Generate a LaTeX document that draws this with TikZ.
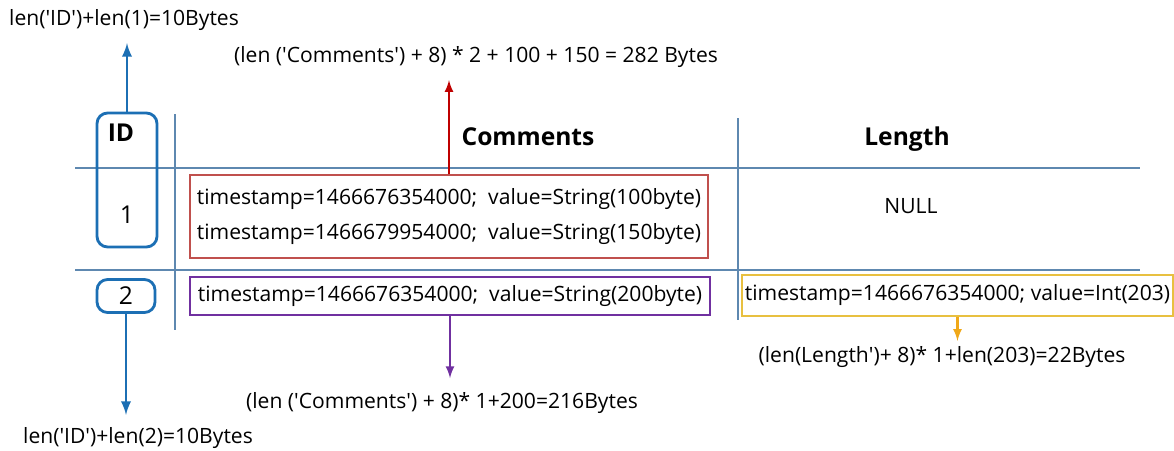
\documentclass[tikz,border=0pt]{standalone}
\usepackage{fontspec}
\setmainfont{Open Sans}
\usetikzlibrary{positioning}
\definecolor{gridblue}{HTML}{5E88B0}
\definecolor{keyblue}{HTML}{1C6FB4}
\definecolor{cellred}{HTML}{C0504D}
\definecolor{cellpurple}{HTML}{7030A0}
\definecolor{cellyellow}{HTML}{E8C040}
\definecolor{arrowyellow}{HTML}{F0A818}
\newcommand{\sq}{\textquotesingle}

\begin{document}
\begin{tikzpicture}[x=0.02cm,y=-0.02cm,>=latex,font=\fontsize{12}{14}\selectfont]
        \tikzstyle{keybox}=[rectangle, rounded corners=6pt, draw=keyblue, line width=1.6pt, inner sep=0pt]
        \tikzstyle{cell}=[rectangle, line width=0.8pt, inner xsep=0.08cm, inner ysep=0pt, align=left]
        \tikzstyle{head}=[font=\fontsize{14}{16}\selectfont\bfseries, inner sep=0pt]
        \tikzstyle{note}=[inner sep=0pt]
        \tikzstyle{grid}=[draw=gridblue, line width=0.8pt]
        \useasboundingbox (0,0) rectangle (1174,450);
        % table rules
        \draw[grid] (75,168) -- (1140,168);
        \draw[grid] (75,270) -- (1140,270);
        \draw[grid] (175,114) -- (175,330);
        \draw[grid] (738,118) -- (738,320);
        % row keys
        \node[keybox, minimum width=1.2cm, minimum height=2.68cm] (idbox) at (127,180) {};
        \node[head] (idhead) at (121,133) {ID};
        \node[note, font=\fontsize{14}{16}\selectfont] (idone) at (127,215) {1};
        \node[keybox, minimum width=1.16cm, minimum height=0.66cm] (idtwo) at (126,296) {\fontsize{14}{16}\selectfont 2};
        % headers
        \node[head] (cmthead) at (528,137) {Comments};
        \node[head] (lenhead) at (907,139) {Length};
        % cells
        \node[cell, draw=cellred, minimum width=10.36cm, minimum height=1.66cm, font=\fontsize{12}{19.8}\selectfont] (cmtone) at (449,216.5)
            {timestamp=1466676354000;\ \ value=String(100byte)\\timestamp=1466679954000;\ \ value=String(150byte)};
        \node[note] (null) at (911,206) {NULL};
        \node[cell, draw=cellpurple, minimum width=10.4cm, minimum height=0.76cm] (cmttwo) at (450,296)
            {timestamp=1466676354000;\ \ value=String(200byte)};
        \node[cell, draw=cellyellow, minimum width=8.62cm, minimum height=0.82cm, inner xsep=0.06cm] (lenbox) at (957.5,295.5)
            {timestamp=1466676354000; value=Int(203)};
        % size notes
        \node[note] (sizeidone) at (124,20) {len(\sq ID\sq)+len(1)=10Bytes};
        \node[note] (sizecmtone) at (476,57) {(len (\sq Comments\sq) + 8) * 2 + 100 + 150 = 282 Bytes};
        \node[note] (sizecmttwo) at (442,403) {(len (\sq Comments\sq) + 8)* 1+200=216Bytes};
        \node[note] (sizeidtwo) at (138,438) {len(\sq ID\sq)+len(2)=10Bytes};
        \node[note] (sizelen) at (942,357) {(len(Length\sq)+ 8)* 1+len(203)=22Bytes};
        % arrows
        \draw[->,keyblue,line width=1.6pt,shorten >=7pt] (idbox.north) -- (idbox.north |- sizeidone.south);
        \draw[->,keyblue,line width=1.6pt,shorten >=7pt] (idtwo.south) -- (idtwo.south |- sizeidtwo.north);
        \draw[->,red!75!black,line width=1.3pt,shorten >=7pt] (cmtone.north) -- (cmtone.north |- sizecmtone.south);
        \draw[->,cellpurple,line width=1.3pt,shorten >=8pt] (cmttwo.south) -- (cmttwo.south |- sizecmttwo.north);
        \draw[->,arrowyellow,line width=1.3pt,shorten >=3pt] (lenbox.south) -- (lenbox.south |- sizelen.north);
    \end{tikzpicture}
\end{document}
